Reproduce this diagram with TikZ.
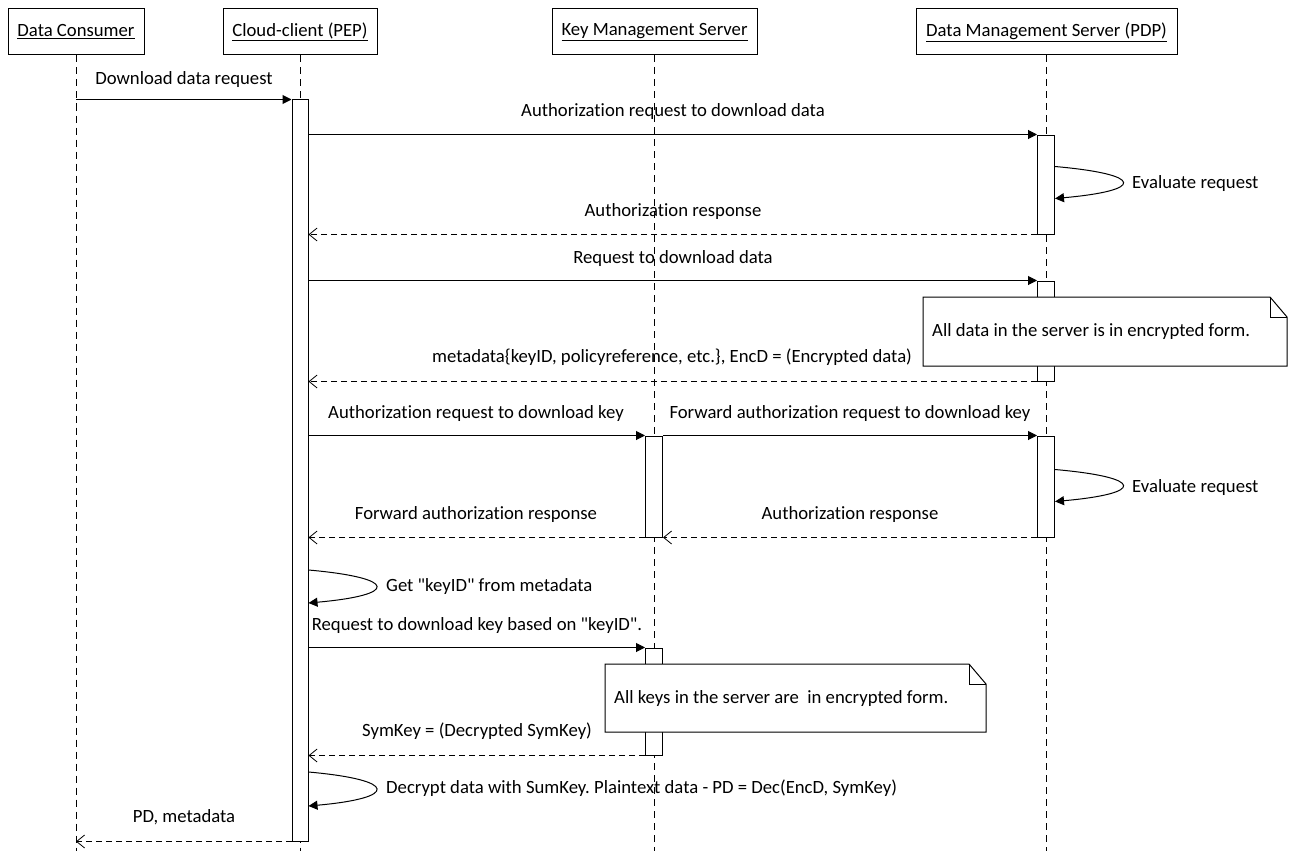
\documentclass[tikz,border=0pt]{standalone}
\usepackage{fontspec}
\setmainfont{Carlito}[Ligatures={TeXOff,NoCommon}]
\usetikzlibrary{arrows.meta}
\frenchspacing
\begin{document}
\begin{tikzpicture}[x=1pt,y=-1pt,
  font=\fontsize{18.7}{22}\selectfont,
  actor/.style={draw, line width=1pt, minimum height=46pt, inner sep=0pt, fill=white},
  lifeline/.style={line width=0.9pt, dash pattern=on 7pt off 5pt},
  actbar/.style={draw, fill=white, line width=1pt, minimum width=17pt, inner sep=0pt},
  msg/.style={line width=1pt, -{Triangle[length=9pt,width=9pt]}},
  reply/.style={line width=1pt, dash pattern=on 6pt off 4pt,
    -{Straight Barb[length=8pt,width=13pt,line width=0.8pt]}},
  selfmsg/.style={line width=1pt, -{Triangle[length=9pt,width=9pt]}},
  lbl/.style={inner sep=0pt, text height=13pt, text depth=4pt},
  notebg/.style={draw, fill=white, line width=1pt},
]
\useasboundingbox (0,0) rectangle (1294,851);

% participants
\node[actor, minimum width=136pt] (dcH) at (76,32) {\underline{Data Consumer}};
\node[actor, minimum width=154pt] (ccH) at (300,32) {\underline{Cloud-client (PEP)}};
\node[actor, minimum width=205pt] (kmH) at (654.5,32) {\underline{Key Management Server}};
\node[actor, minimum width=261pt] (dmH) at (1046.5,32) {\underline{Data Management Server (PDP)}};

% lifelines
\draw[lifeline] (dcH.south) -- (dcH.south |- 0,851);
\draw[lifeline] (ccH.south) -- (ccH.south |- 0,851);
\draw[lifeline] (654,55) -- (654,851);
\draw[lifeline] (1046,55) -- (1046,851);

% activation bars
\node[actbar, minimum width=16pt, minimum height=741pt] (cc) at (300,470.5) {};
\node[actbar, minimum height=99pt] (d1) at (1046,184.5) {};
\node[actbar, minimum height=100pt] (d2) at (1046,331) {};
\node[actbar, minimum height=101pt] (k1) at (654,486.5) {};
\node[actbar, minimum height=101pt] (d3) at (1046,486.5) {};
\node[actbar, minimum height=107pt] (k2) at (654,701.5) {};

% messages
\draw[msg] (dcH.south |- cc.north west) -- (cc.north west);
\node[lbl] (m1) at (184,80) {Download data request};

\draw[msg] (cc.east |- d1.north west) -- (d1.north west);
\node[lbl] (m2) at (673,112) {Authorization request to download data};

\draw[selfmsg] ([yshift=-32pt]d1.north east) .. controls +(90,8) and +(90,-8) .. ([yshift=-64pt]d1.north east);
\node[lbl, anchor=west] (m3) at (1132,184) {Evaluate request};

\draw[reply] (d1.south west) -- (cc.east |- d1.south west);
\node[lbl] (m4) at (673,212) {Authorization response};

\draw[msg] (cc.east |- d2.north west) -- (d2.north west);
\node[lbl] (m5) at (673,259) {Request to download data};

\draw[reply] (d2.south west) -- (cc.east |- d2.south west);
\node[lbl] (m6) at (672,358) {metadata\{keyID, policyreference, etc.\}, EncD = (Encrypted data)};

\draw[msg] (cc.east |- k1.north west) -- (k1.north west);
\node[lbl] (m7) at (476,414) {Authorization request to download key};

\draw[msg] (k1.north east) -- (d3.north west);
\node[lbl] (m8) at (850,414) {Forward authorization request to download key};

\draw[selfmsg] ([yshift=-34pt]d3.north east) .. controls +(90,8) and +(90,-8) .. ([yshift=-66pt]d3.north east);
\node[lbl, anchor=west] (m9) at (1132,488) {Evaluate request};

\draw[reply] (d3.south west) -- (k1.south east);
\node[lbl] (m10) at (850,515) {Authorization response};

\draw[reply] (k1.south west) -- (cc.east |- k1.south west);
\node[lbl] (m11) at (476,515) {Forward authorization response};

\draw[selfmsg] (cc.east |- 0,570) .. controls +(90,8) and +(90,-8) .. (cc.east |- 0,603);
\node[lbl, anchor=west] (m12) at (386,587) {Get "keyID" from metadata};

\draw[msg] (cc.east |- k2.north west) -- (k2.north west);
\node[lbl] (m13) at (477,626) {Request to download key based on "keyID".};

\draw[reply] (k2.south west) -- (cc.east |- k2.south west);
\node[lbl] (m14) at (477,732) {SymKey = (Decrypted SymKey)};

\draw[selfmsg] (cc.east |- 0,772) .. controls +(90,8) and +(90,-8) .. (cc.east |- 0,806);
\node[lbl, anchor=west] (m15) at (386,789) {Decrypt data with SumKey. Plaintext data - PD = Dec(EncD, SymKey)};

\draw[reply] (cc.south west) -- (dcH.south |- cc.south west);
\node[lbl] (m16) at (184,818) {PD, metadata};

% notes with folded corner
\coordinate (n1a) at (923,297);
\coordinate (n1b) at (1287,366);
\filldraw[notebg] (n1a) -- ([xshift=-17pt]n1b |- n1a) -- ([yshift=-20pt]n1b |- n1a) -- (n1b) -- (n1a |- n1b) -- cycle;
\draw[line width=1pt] ([xshift=-17pt]n1b |- n1a) -- ([xshift=-17pt,yshift=-20pt]n1b |- n1a) -- ([yshift=-20pt]n1b |- n1a);
\node[lbl, anchor=west] (n1) at (932,332) {All data in the server is in encrypted form.};

\coordinate (n2a) at (605,664);
\coordinate (n2b) at (986,732);
\filldraw[notebg] (n2a) -- ([xshift=-17pt]n2b |- n2a) -- ([yshift=-20pt]n2b |- n2a) -- (n2b) -- (n2a |- n2b) -- cycle;
\draw[line width=1pt] ([xshift=-17pt]n2b |- n2a) -- ([xshift=-17pt,yshift=-20pt]n2b |- n2a) -- ([yshift=-20pt]n2b |- n2a);
\node[lbl, anchor=west] (n2) at (614,699) {All keys in the server are\ \ in encrypted form.};
\end{tikzpicture}
\end{document}
